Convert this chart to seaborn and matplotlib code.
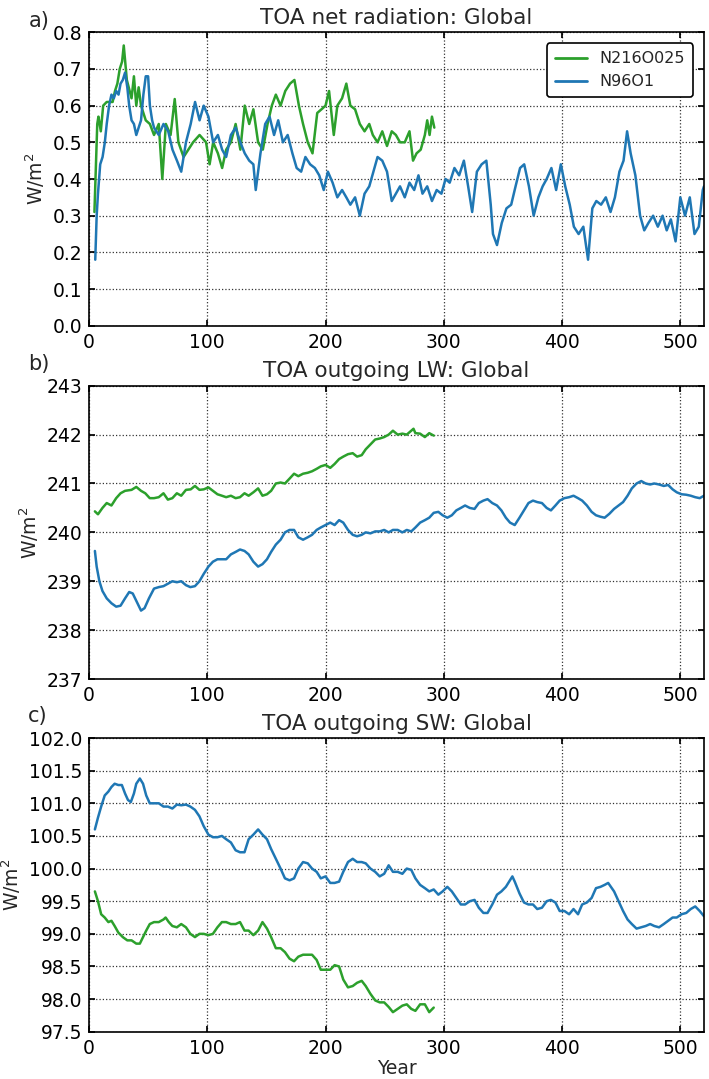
import numpy as np
import pandas as pd
import matplotlib
matplotlib.use("Agg")
import matplotlib.pyplot as plt
import seaborn as sns

# ---------------- data ----------------
names = ["N216O025", "N96O1"]
colors = {"N216O025": "#2ca02c", "N96O1": "#1f77b4"}
titles = ["TOA net radiation: Global", "TOA outgoing LW: Global", "TOA outgoing SW: Global"]
panel_tags = ["a)", "b)", "c)"]
ylabel = "W/m$^2$"
xlabel = "Year"
xticks = [0, 100, 200, 300, 400, 500]
yticks_a = [0.0, 0.1, 0.2, 0.3, 0.4, 0.5, 0.6, 0.7, 0.8]
yticks_b = [237, 238, 239, 240, 241, 242, 243]
yticks_c = [97.5, 98.0, 98.5, 99.0, 99.5, 100.0, 100.5, 101.0, 101.5, 102.0]

# Panel a: net radiation
net_hi_year = [4.6, 7, 8, 10, 12, 15, 20, 22, 24, 26, 28, 29.4, 32, 36, 38, 40, 42, 44, 48, 51.5, 55, 59, 62,
               65, 69, 72.5, 75.6, 80, 84, 88, 93.5, 99, 102, 105, 109, 112.6, 116, 120, 124, 128, 131.7,
               135.5, 139, 143, 147, 151, 154.6, 158, 162, 166, 170, 173.7, 177.5, 181, 185, 189, 193,
               196.6, 200, 203, 207, 210, 214, 217.6, 221, 225, 229, 233, 237, 240, 244, 248, 252, 256,
               259.5, 263, 267, 271, 274, 277, 280.5, 284, 286, 288, 290, 292]
net_hi_val = [0.31, 0.55, 0.57, 0.53, 0.60, 0.61, 0.61, 0.64, 0.66, 0.70, 0.72, 0.764, 0.67, 0.62, 0.68, 0.60,
              0.65, 0.60, 0.56, 0.55, 0.52, 0.55, 0.40, 0.55, 0.52, 0.618, 0.50, 0.46, 0.48, 0.50, 0.52,
              0.50, 0.44, 0.50, 0.47, 0.43, 0.48, 0.50, 0.55, 0.48, 0.60, 0.55, 0.59, 0.50, 0.48, 0.55,
              0.60, 0.63, 0.60, 0.64, 0.66, 0.67, 0.60, 0.55, 0.50, 0.47, 0.58, 0.59, 0.60, 0.64, 0.52,
              0.60, 0.62, 0.66, 0.60, 0.59, 0.55, 0.53, 0.55, 0.52, 0.50, 0.53, 0.49, 0.53, 0.52, 0.50,
              0.50, 0.53, 0.45, 0.47, 0.48, 0.52, 0.56, 0.52, 0.57, 0.54]
net_lo_year = [5.3, 6.5, 7.6, 9.5, 11.5, 13.4, 15, 17, 19, 21, 23, 25, 26.7, 28.6, 30.5, 32.4, 34, 36, 38, 40,
               44, 46, 48, 50, 51.5, 53.4, 55, 59, 63, 67, 70.6, 74.4, 78, 82, 86, 89.7, 93.5, 97, 101,
               105, 109, 112.6, 116, 120, 124, 128, 131.7, 135.5, 139, 141, 145, 149, 152.7, 156.5, 160,
               164, 168, 172, 175.6, 179.4, 183, 187, 191, 194.7, 198.5, 202, 206, 210, 214, 217.6, 221,
               225, 229, 233, 237, 240.5, 244, 248, 252, 256, 259.5, 263, 267, 271, 275, 278.6, 282, 286,
               290, 294, 298, 301.5, 305, 309, 313, 317, 320.6, 324, 328, 332, 336, 339.7, 341.6, 345,
               349, 353, 357, 360.7, 364.5, 368, 372, 376, 380, 383.6, 387, 391, 395, 399, 402.7, 406.5,
               410, 414, 418, 422, 425.6, 429, 433, 437, 441, 444.7, 448.5, 452, 455, 458, 462, 466,
               469.5, 473, 477, 481, 485, 488.5, 492, 496, 500, 504, 508, 512, 515.6, 519, 520]
net_lo_val = [0.18, 0.30, 0.36, 0.44, 0.46, 0.50, 0.55, 0.60, 0.63, 0.62, 0.64, 0.63, 0.66, 0.67, 0.69, 0.65,
              0.60, 0.56, 0.55, 0.52, 0.56, 0.63, 0.68, 0.68, 0.60, 0.56, 0.54, 0.52, 0.55, 0.53, 0.48,
              0.45, 0.42, 0.50, 0.55, 0.61, 0.56, 0.60, 0.57, 0.50, 0.52, 0.48, 0.46, 0.52, 0.54, 0.50,
              0.47, 0.45, 0.44, 0.37, 0.47, 0.55, 0.57, 0.52, 0.56, 0.50, 0.52, 0.47, 0.43, 0.42, 0.46,
              0.44, 0.43, 0.41, 0.37, 0.42, 0.39, 0.35, 0.37, 0.35, 0.33, 0.35, 0.30, 0.36, 0.38, 0.42,
              0.46, 0.45, 0.42, 0.34, 0.36, 0.38, 0.35, 0.39, 0.37, 0.41, 0.36, 0.38, 0.34, 0.37, 0.36,
              0.40, 0.39, 0.43, 0.41, 0.45, 0.38, 0.31, 0.42, 0.44, 0.45, 0.33, 0.25, 0.22, 0.28, 0.32,
              0.33, 0.38, 0.43, 0.44, 0.38, 0.30, 0.35, 0.38, 0.40, 0.43, 0.37, 0.44, 0.38, 0.33, 0.27,
              0.25, 0.27, 0.18, 0.32, 0.34, 0.33, 0.35, 0.31, 0.35, 0.42, 0.45, 0.53, 0.47, 0.41, 0.30,
              0.26, 0.28, 0.30, 0.27, 0.30, 0.26, 0.29, 0.23, 0.35, 0.30, 0.35, 0.25, 0.27, 0.37, 0.38]

# Panel b: outgoing LW
lw_hi_year = [5, 7.6, 11.4, 15, 19, 23, 26.7, 30.5, 36, 40, 44, 47.6, 51.4, 55, 59, 63, 66.7, 70.5, 74.3, 78,
              82, 86, 89.6, 93.4, 97, 101, 104.8, 108.6, 112.4, 116, 120, 124, 127.7, 131.5, 135, 139,
              143, 146.7, 150.5, 154, 158, 162, 165.7, 169.6, 173.4, 177, 181, 185, 188.6, 192.5, 196,
              200, 204, 207.7, 211.5, 215, 219, 223, 226.7, 230.6, 234, 238, 242, 245.8, 249.6, 253.4,
              257, 261, 265, 268.7, 272.5, 274.4, 276, 280, 284, 287.7, 291.5]
lw_hi_val = [240.43, 240.37, 240.50, 240.60, 240.55, 240.70, 240.80, 240.85, 240.87, 240.93, 240.85, 240.80,
             240.70, 240.70, 240.72, 240.80, 240.67, 240.70, 240.80, 240.75, 240.87, 240.88, 240.95,
             240.87, 240.88, 240.92, 240.85, 240.78, 240.75, 240.72, 240.75, 240.70, 240.72, 240.80,
             240.75, 240.82, 240.90, 240.75, 240.78, 240.85, 241.00, 241.02, 241.00, 241.10, 241.20,
             241.15, 241.20, 241.22, 241.25, 241.30, 241.35, 241.38, 241.32, 241.40, 241.50, 241.55,
             241.60, 241.62, 241.55, 241.58, 241.70, 241.80, 241.90, 241.92, 241.95, 242.00, 242.08,
             242.00, 242.02, 242.00, 242.08, 242.12, 242.03, 242.02, 241.95, 242.03, 241.98]
lw_lo_year = [5, 6.5, 8.8, 11.4, 15, 19, 23, 26.7, 30.5, 34, 37, 40, 44, 47, 50.7, 55, 59, 63, 66.7, 70.5,
              74.3, 78, 82, 85.7, 89.6, 93.4, 97, 101, 104.8, 108.6, 112.4, 116, 120, 124, 127.7, 131.5,
              135, 139, 143, 146.7, 150.5, 154, 158, 162, 165.7, 169.6, 173.4, 177, 181, 185, 188.6,
              192.5, 196, 200, 204, 207.7, 211.5, 215, 219, 223, 226.7, 230.6, 234, 238, 242, 245.8,
              249.6, 253.4, 257, 261, 265, 268.7, 272.5, 276, 280, 284, 287.7, 291.5, 295.4, 299, 303,
              306.8, 310.6, 314.4, 318, 322, 326, 329.6, 333.5, 337, 341, 345, 348.7, 352.5, 356, 360,
              364, 367.8, 371.6, 375.4, 379, 383, 387, 390.6, 394.4, 398, 402, 406, 409.7, 413.5, 417,
              421, 425, 428.7, 432.5, 436, 440, 444, 447.8, 451.6, 455.4, 459, 463, 467, 470.7, 474.5,
              478, 482, 486, 489.7, 493.5, 497, 501, 505, 508.8, 512.6, 516.4, 520]
lw_lo_val = [239.62, 239.30, 239.00, 238.80, 238.65, 238.55, 238.48, 238.50, 238.65, 238.78, 238.75,
             238.60, 238.40, 238.45, 238.65, 238.85, 238.88, 238.90, 238.95, 239.00, 238.98, 239.00,
             238.92, 238.88, 238.90, 239.00, 239.15, 239.30, 239.40, 239.45, 239.45, 239.45, 239.55,
             239.60, 239.65, 239.62, 239.55, 239.40, 239.30, 239.35, 239.45, 239.60, 239.75, 239.85,
             240.00, 240.05, 240.05, 239.90, 239.85, 239.90, 239.95, 240.05, 240.10, 240.15, 240.20,
             240.15, 240.25, 240.20, 240.05, 239.95, 239.92, 239.95, 240.00, 239.98, 240.02, 240.02,
             240.05, 240.00, 240.05, 240.05, 240.00, 240.05, 240.02, 240.10, 240.20, 240.25, 240.30,
             240.40, 240.42, 240.35, 240.30, 240.35, 240.45, 240.50, 240.55, 240.50, 240.48, 240.60,
             240.65, 240.68, 240.60, 240.55, 240.45, 240.30, 240.20, 240.15, 240.30, 240.45, 240.60,
             240.65, 240.62, 240.60, 240.50, 240.45, 240.55, 240.65, 240.70, 240.72, 240.75, 240.70,
             240.65, 240.55, 240.42, 240.35, 240.32, 240.30, 240.38, 240.48, 240.55, 240.62, 240.75,
             240.90, 241.00, 241.05, 241.00, 240.98, 241.00, 240.98, 240.95, 240.97, 240.88, 240.82,
             240.78, 240.77, 240.75, 240.72, 240.70, 240.75]

# Panel c: outgoing SW
sw_hi_year = [5, 7.6, 10.3, 13.3, 16.4, 19, 21.7, 24.8, 28.6, 32.4, 36, 40, 43, 45.7, 48.4, 51.4, 55, 59, 63,
              64.8, 67.5, 70.5, 74.3, 78, 82, 85.7, 89.6, 93.4, 97, 101, 104.8, 108.6, 112.4, 116, 120,
              124, 127.7, 131.5, 135, 139, 143, 146.7, 150.5, 154, 158, 162, 165.7, 169.6, 173.4, 177,
              181, 185, 188.6, 192.5, 196, 200, 204, 207.7, 211.5, 215, 219, 223, 226.7, 230.6, 234, 238,
              242, 245.8, 249.6, 253.4, 257, 261, 265, 268.7, 272.5, 276, 280, 284, 287.7, 291.5]
sw_hi_val = [99.65, 99.50, 99.30, 99.25, 99.18, 99.20, 99.12, 99.02, 98.95, 98.90, 98.90, 98.85, 98.85,
             98.95, 99.05, 99.15, 99.18, 99.18, 99.22, 99.25, 99.18, 99.12, 99.10, 99.15, 99.10, 99.00,
             98.95, 99.00, 99.00, 98.98, 99.00, 99.10, 99.18, 99.18, 99.15, 99.15, 99.18, 99.05, 99.05,
             98.98, 99.05, 99.18, 99.08, 98.95, 98.78, 98.78, 98.72, 98.62, 98.58, 98.65, 98.68, 98.68,
             98.68, 98.60, 98.45, 98.45, 98.45, 98.52, 98.50, 98.30, 98.18, 98.20, 98.25, 98.28, 98.20,
             98.08, 97.98, 97.95, 97.95, 97.88, 97.80, 97.85, 97.90, 97.92, 97.85, 97.82, 97.92, 97.92,
             97.80, 97.87]
sw_lo_year = [5, 7.6, 10.3, 13.3, 16.4, 19, 21.7, 24.8, 27.8, 30.5, 33, 35.4, 38, 40, 43, 45.7, 48.4, 51.4,
              55, 59, 63, 66.7, 70.5, 74.3, 78, 82, 85.7, 89.6, 93.4, 97, 101, 104.8, 108.6, 112.4, 116,
              120, 124, 127.7, 131.5, 135, 139, 143, 146.7, 150.5, 154, 158, 162, 165.7, 169.6, 173.4,
              177, 181, 185, 188.6, 192.5, 196, 200, 204, 207.7, 211.5, 215, 219, 223, 226.7, 230.6, 234,
              238, 242, 245.8, 249.6, 253.4, 257, 261, 265, 268.7, 272.5, 276, 280, 284, 287.7, 291.5,
              295.4, 299, 303, 306.8, 310.6, 314.4, 318, 322, 326, 329.6, 333.5, 337, 341, 345, 348.7,
              352.5, 356, 358, 360, 364, 367.8, 371.6, 375.4, 379, 383, 387, 390.6, 394.4, 398, 402, 406,
              409.7, 413.5, 417, 421, 425, 428.7, 432.5, 436, 439, 444, 447.8, 451.6, 455.4, 459, 463,
              467, 470.7, 474.5, 478, 482, 486, 489.7, 493.5, 497, 501, 505, 508.8, 512.6, 516.4, 520]
sw_lo_val = [100.60, 100.78, 100.95, 101.12, 101.18, 101.25, 101.30, 101.28, 101.28, 101.15, 101.05,
             101.02, 101.15, 101.30, 101.38, 101.30, 101.12, 101.00, 101.00, 101.00, 100.95, 100.95,
             100.92, 100.98, 100.97, 100.98, 100.95, 100.90, 100.80, 100.65, 100.52, 100.48, 100.48,
             100.50, 100.45, 100.40, 100.28, 100.25, 100.25, 100.45, 100.52, 100.60, 100.52, 100.45,
             100.30, 100.15, 100.00, 99.85, 99.82, 99.85, 100.00, 100.10, 100.08, 100.00, 99.95, 99.85,
             99.88, 99.78, 99.78, 99.80, 99.95, 100.10, 100.15, 100.10, 100.10, 100.08, 100.00, 99.95,
             99.88, 99.92, 100.05, 99.95, 99.95, 99.92, 100.00, 99.98, 99.85, 99.75, 99.70, 99.65, 99.68,
             99.60, 99.65, 99.72, 99.65, 99.55, 99.45, 99.45, 99.50, 99.52, 99.40, 99.32, 99.32, 99.45,
             99.60, 99.65, 99.72, 99.82, 99.88, 99.80, 99.62, 99.48, 99.45, 99.45, 99.38, 99.40, 99.50,
             99.52, 99.48, 99.35, 99.35, 99.30, 99.38, 99.30, 99.45, 99.48, 99.55, 99.70, 99.72, 99.75,
             99.78, 99.65, 99.50, 99.35, 99.22, 99.15, 99.08, 99.10, 99.12, 99.15, 99.12, 99.10, 99.15,
             99.20, 99.25, 99.25, 99.30, 99.32, 99.38, 99.42, 99.35, 99.27]

panels = [
    (net_hi_year, net_hi_val, net_lo_year, net_lo_val, yticks_a, "{:.1f}"),
    (lw_hi_year, lw_hi_val, lw_lo_year, lw_lo_val, yticks_b, "{:.0f}"),
    (sw_hi_year, sw_hi_val, sw_lo_year, sw_lo_val, yticks_c, "{:.1f}"),
]

# ---------------- style ----------------
sns.set_theme(style="ticks")
plt.rcParams.update({
    "font.family": ["DejaVu Sans"],
    "axes.edgecolor": "black",
    "axes.linewidth": 1.0,
    "xtick.direction": "in",
    "ytick.direction": "in",
    "xtick.top": True,
    "ytick.right": True,
    "xtick.major.size": 4,
    "ytick.major.size": 4,
    "xtick.labelsize": 13.5,
    "ytick.labelsize": 13.5,
    "xtick.color": "black",
    "ytick.color": "black",
})

fig = plt.figure(figsize=(7.09, 10.79), dpi=100)
axes_rects = [
    [0.1255, 0.6981, 0.8674, 0.2720],
    [0.1255, 0.3707, 0.8674, 0.2718],
    [0.1255, 0.0438, 0.8674, 0.2722],
]
tag_y = [0.981, 0.663, 0.336]

for i, (hy, hv, ly, lv, yt, fmt) in enumerate(panels):
    ax = fig.add_axes(axes_rects[i])
    df = pd.concat([
        pd.DataFrame({"Year": hy, "val": hv, "run": names[0]}),
        pd.DataFrame({"Year": ly, "val": lv, "run": names[1]}),
    ], ignore_index=True)
    sns.lineplot(data=df, x="Year", y="val", hue="run", palette=colors,
                 hue_order=names, linewidth=1.8, ax=ax, legend=(i == 0),
                 estimator=None, sort=False)
    ax.set_xlim(0, 520)
    ax.set_ylim(yt[0], yt[-1])
    ax.set_xticks(xticks)
    ax.set_yticks(yt)
    ax.set_yticklabels([fmt.format(v) for v in yt])
    ax.grid(True, linestyle=":", color="black", linewidth=0.9, alpha=0.8)
    ax.set_title(titles[i], fontsize=15.5, pad=6)
    ax.set_ylabel(ylabel, fontsize=13.5, labelpad=4)
    ax.set_xlabel(xlabel if i == 2 else "", fontsize=13.5, labelpad=1)
    for sp in ax.spines.values():
        sp.set_color("black")
        sp.set_linewidth(1.2)
    ax.tick_params(pad=5)
    if i == 0:
        leg = ax.legend(loc="upper right", fontsize=11.5, frameon=True, fancybox=True,
                        framealpha=1, edgecolor="black", borderpad=0.5,
                        handlelength=2.0, title=None, borderaxespad=0.7)
        leg.get_frame().set_linewidth(1.2)
        for line in leg.get_lines():
            line.set_linewidth(2.0)
    fig.text(0.04, tag_y[i], panel_tags[i], fontsize=15, ha="left", va="center")

fig.savefig("out.png", dpi=100)
